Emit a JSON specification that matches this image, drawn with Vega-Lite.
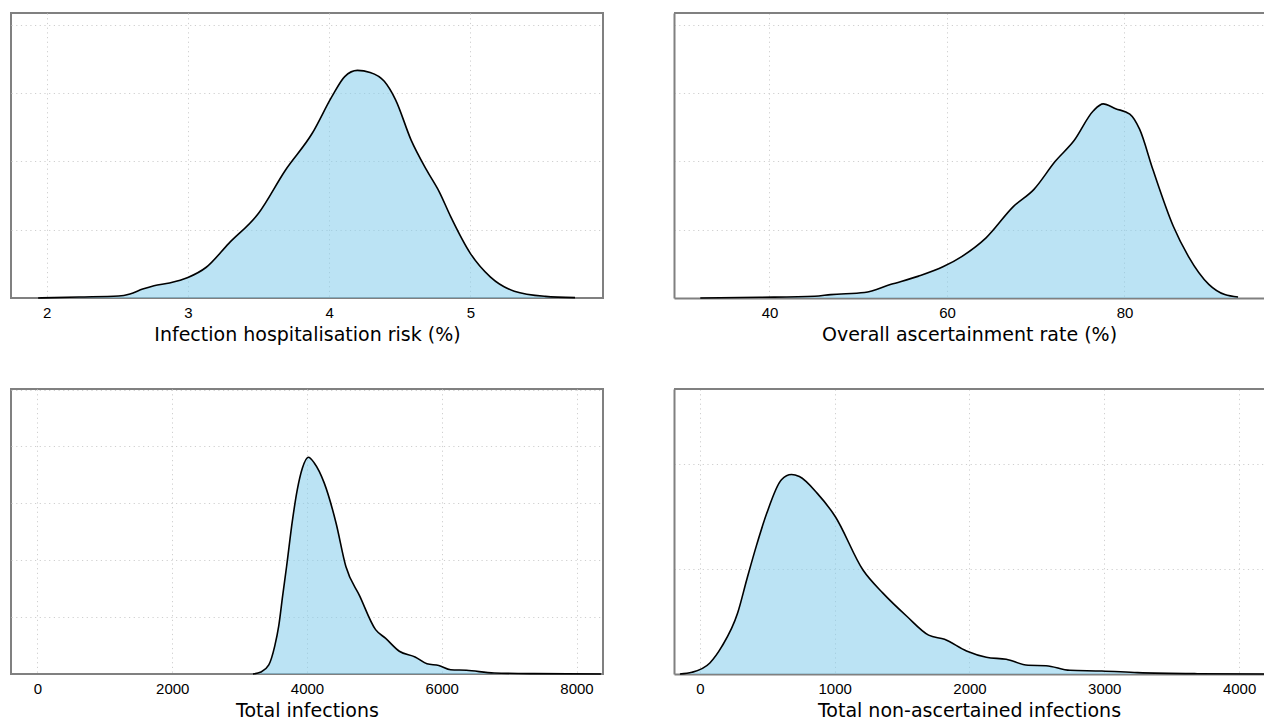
{
  "$schema": "https://vega.github.io/schema/vega-lite/v6.json",
  "padding": {"left": 10, "top": 12, "right": 0, "bottom": 0},
  "background": "white",
  "bounds": "flush",
  "columns": 2,
  "spacing": {"row": 91, "column": 71},
  "datasets": {
    "ihr": [
      {"x": 1.94, "y": 0}, {"x": 2.23, "y": 0.015}, {"x": 2.51, "y": 0.03}, {"x": 2.59, "y": 0.06},
      {"x": 2.68, "y": 0.13}, {"x": 2.76, "y": 0.18}, {"x": 2.87, "y": 0.22}, {"x": 3.0, "y": 0.3},
      {"x": 3.13, "y": 0.45}, {"x": 3.29, "y": 0.8}, {"x": 3.5, "y": 1.24}, {"x": 3.69, "y": 1.87},
      {"x": 3.88, "y": 2.41}, {"x": 4.02, "y": 2.95}, {"x": 4.11, "y": 3.24}, {"x": 4.2, "y": 3.33},
      {"x": 4.29, "y": 3.3}, {"x": 4.39, "y": 3.17}, {"x": 4.47, "y": 2.9}, {"x": 4.58, "y": 2.31},
      {"x": 4.69, "y": 1.87}, {"x": 4.78, "y": 1.55}, {"x": 4.86, "y": 1.19}, {"x": 5.0, "y": 0.65},
      {"x": 5.14, "y": 0.31}, {"x": 5.31, "y": 0.1}, {"x": 5.53, "y": 0.024}, {"x": 5.74, "y": 0.005}
    ],
    "asc": [
      {"x": 32.2, "y": 0}, {"x": 38.9, "y": 0.01}, {"x": 45.1, "y": 0.025}, {"x": 46.9, "y": 0.05},
      {"x": 50.7, "y": 0.08}, {"x": 53.7, "y": 0.2}, {"x": 56.8, "y": 0.32}, {"x": 59.6, "y": 0.46},
      {"x": 61.7, "y": 0.61}, {"x": 64.4, "y": 0.88}, {"x": 67.5, "y": 1.34}, {"x": 69.8, "y": 1.59},
      {"x": 72.2, "y": 2.0}, {"x": 74.3, "y": 2.3}, {"x": 76.5, "y": 2.74}, {"x": 77.6, "y": 2.84},
      {"x": 79.0, "y": 2.77}, {"x": 80.6, "y": 2.69}, {"x": 81.7, "y": 2.47}, {"x": 83.2, "y": 1.88},
      {"x": 85.5, "y": 1.05}, {"x": 87.2, "y": 0.61}, {"x": 89.5, "y": 0.2}, {"x": 91.3, "y": 0.05},
      {"x": 92.8, "y": 0.015}
    ],
    "tot": [
      {"x": 3198, "y": 0}, {"x": 3316, "y": 0.035}, {"x": 3433, "y": 0.16}, {"x": 3521, "y": 0.49},
      {"x": 3580, "y": 0.84}, {"x": 3638, "y": 1.37}, {"x": 3697, "y": 1.89}, {"x": 3785, "y": 2.71},
      {"x": 3856, "y": 3.24}, {"x": 3932, "y": 3.62}, {"x": 4020, "y": 3.81},
      {"x": 4108, "y": 3.71}, {"x": 4255, "y": 3.36}, {"x": 4430, "y": 2.66}, {"x": 4577, "y": 1.89},
      {"x": 4783, "y": 1.37}, {"x": 5018, "y": 0.78}, {"x": 5164, "y": 0.63}, {"x": 5370, "y": 0.4},
      {"x": 5604, "y": 0.3}, {"x": 5780, "y": 0.18}, {"x": 5956, "y": 0.15}, {"x": 6132, "y": 0.076},
      {"x": 6367, "y": 0.065}, {"x": 6778, "y": 0.018}, {"x": 7365, "y": 0.006}, {"x": 8362, "y": 0}
    ],
    "non": [
      {"x": -148, "y": 0}, {"x": -59, "y": 0.016}, {"x": 74, "y": 0.105}, {"x": 162, "y": 0.26},
      {"x": 280, "y": 0.58}, {"x": 348, "y": 0.9}, {"x": 419, "y": 1.22}, {"x": 496, "y": 1.53},
      {"x": 605, "y": 1.85}, {"x": 680, "y": 1.9}, {"x": 738, "y": 1.88}, {"x": 871, "y": 1.72}, {"x": 1004, "y": 1.5},
      {"x": 1210, "y": 0.99}, {"x": 1358, "y": 0.77}, {"x": 1535, "y": 0.55}, {"x": 1697, "y": 0.37},
      {"x": 1815, "y": 0.33}, {"x": 1978, "y": 0.22}, {"x": 2125, "y": 0.16}, {"x": 2273, "y": 0.14},
      {"x": 2435, "y": 0.083}, {"x": 2568, "y": 0.079}, {"x": 2745, "y": 0.035}, {"x": 2982, "y": 0.029},
      {"x": 3247, "y": 0.013}, {"x": 3690, "y": 0.003}, {"x": 4186, "y": 0}
    ]
  },
  "config": {
    "view": {"stroke": "#808080", "strokeWidth": 2},
    "axis": {
      "labelFont": "Liberation Sans", "labelFontSize": 15, "labelColor": "#000", "labelPadding": 7,
      "titleFont": "DejaVu Sans", "titleFontSize": 19, "titleFontWeight": "normal", "titleColor": "#000", "titlePadding": 5,
      "ticks": false, "domain": false, "grid": true, "gridColor": "#cfcfcf", "gridDash": [1.2, 3.5], "gridWidth": 1
    },
    "axisY": {"labels": false, "title": null}
  },
  "concat": [
    {
      "width": 592, "height": 285,
      "data": {"name": "ihr"},
      "mark": {"type": "area", "interpolate": "monotone", "color": "#87ceeb", "fillOpacity": 0.57, "line": {"color": "#000", "strokeWidth": 1.6}},
      "encoding": {
        "x": {"field": "x", "type": "quantitative", "scale": {"domain": [1.748, 5.938], "nice": false, "zero": false}, "axis": {"values": [2, 3, 4, 5], "title": "Infection hospitalisation risk (%)"}},
        "y": {"field": "y", "type": "quantitative", "scale": {"domain": [0, 4.17], "nice": false}, "axis": {"values": [1, 2, 3, 4]}}
      }
    },
    {
      "width": 590, "height": 285,
      "view": {"stroke": null},
      "data": {"name": "asc"},
      "layer": [
        {
          "mark": {"type": "area", "interpolate": "monotone", "color": "#87ceeb", "fillOpacity": 0.57, "line": {"color": "#000", "strokeWidth": 1.6}},
          "encoding": {
            "x": {"field": "x", "type": "quantitative", "scale": {"domain": [29.24, 95.72], "nice": false, "zero": false}, "axis": {"values": [40, 60, 80], "title": "Overall ascertainment rate (%)", "domain": true, "domainColor": "#808080", "domainWidth": 2}},
            "y": {"field": "y", "type": "quantitative", "scale": {"domain": [0, 4.17], "nice": false}, "axis": {"values": [1, 2, 3, 4], "domain": true, "domainColor": "#808080", "domainWidth": 2}}
          }
        },
        {
          "mark": {"type": "rule", "color": "#808080", "strokeWidth": 2},
          "encoding": {"y": {"datum": 4.17}}
        }
      ]
    },
    {
      "width": 592, "height": 285,
      "data": {"name": "tot"},
      "mark": {"type": "area", "interpolate": "monotone", "color": "#87ceeb", "fillOpacity": 0.57, "line": {"color": "#000", "strokeWidth": 1.6}},
      "encoding": {
        "x": {"field": "x", "type": "quantitative", "scale": {"domain": [-393, 8393], "nice": false, "zero": false}, "axis": {"values": [0, 2000, 4000, 6000, 8000], "format": "d", "title": "Total infections"}},
        "y": {"field": "y", "type": "quantitative", "scale": {"domain": [0, 5.01], "nice": false}, "axis": {"values": [1, 2, 3, 4, 5]}}
      }
    },
    {
      "width": 590, "height": 285,
      "view": {"stroke": null},
      "data": {"name": "non"},
      "layer": [
        {
          "mark": {"type": "area", "interpolate": "monotone", "color": "#87ceeb", "fillOpacity": 0.57, "line": {"color": "#000", "strokeWidth": 1.6}},
          "encoding": {
            "x": {"field": "x", "type": "quantitative", "scale": {"domain": [-192, 4185], "nice": false, "zero": false}, "axis": {"values": [0, 1000, 2000, 3000, 4000], "format": "d", "title": "Total non-ascertained infections", "domain": true, "domainColor": "#808080", "domainWidth": 2}},
            "y": {"field": "y", "type": "quantitative", "scale": {"domain": [0, 2.714], "nice": false}, "axis": {"values": [1, 2], "domain": true, "domainColor": "#808080", "domainWidth": 2}}
          }
        },
        {
          "mark": {"type": "rule", "color": "#808080", "strokeWidth": 2},
          "encoding": {"y": {"datum": 2.714}}
        }
      ]
    }
  ]
}
